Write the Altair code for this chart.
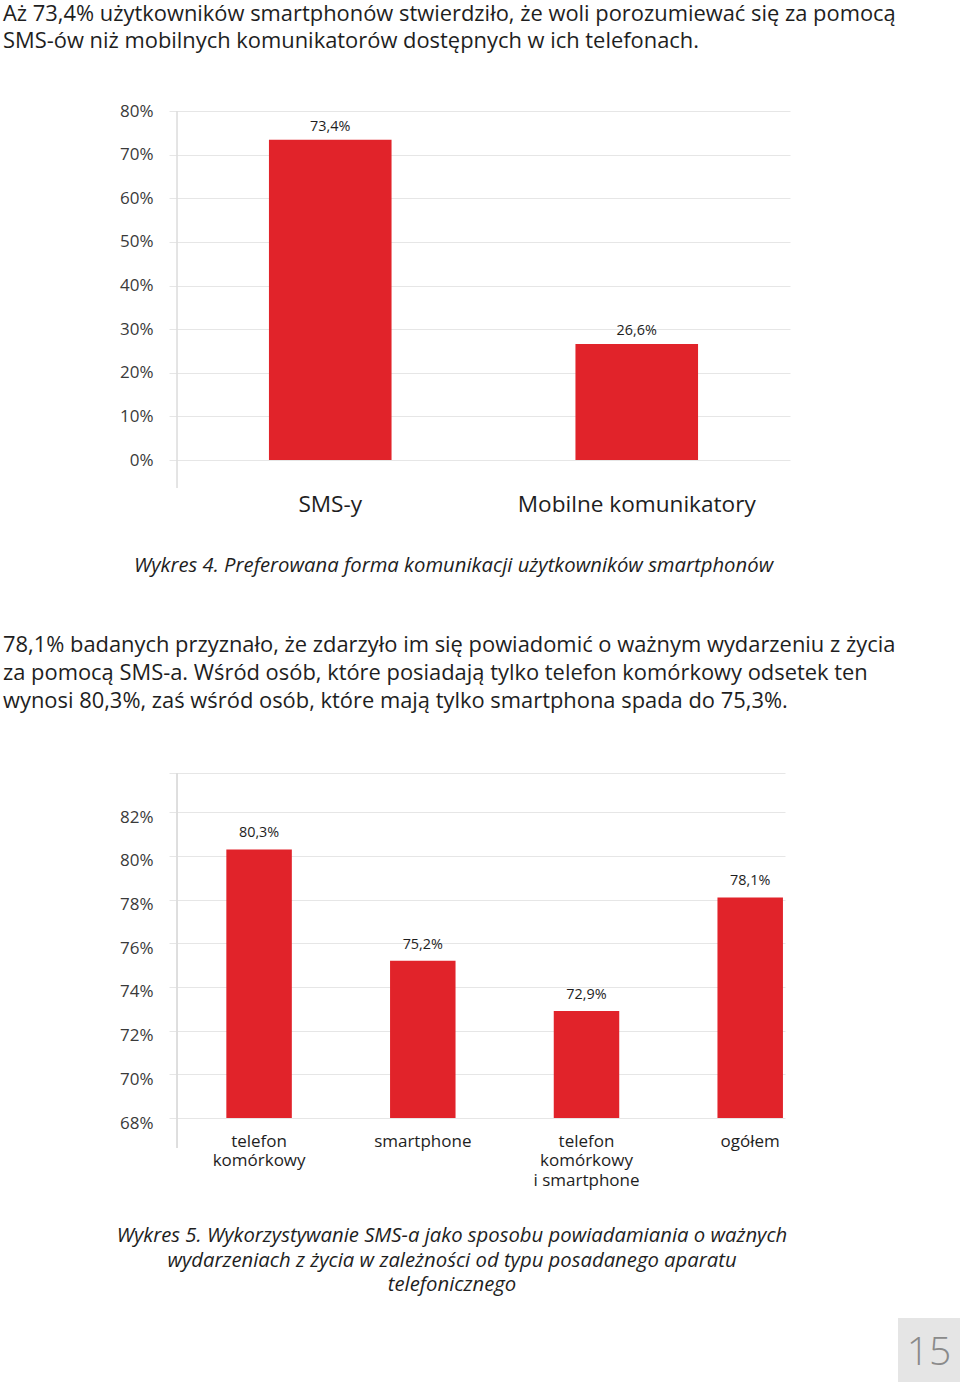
import altair as alt
import pandas as pd

FONT = "Open Sans"
RED = "#e1232a"
GRID = "#e6e6e6"
TEXT = "#1e1e1e"
AXIS_TEXT = "#3a3a3a"

# ---------------- data ----------------
intro_lines = [
    "Aż 73,4% użytkowników smartphonów stwierdziło, że woli porozumiewać się za pomocą",
    "SMS-ów niż mobilnych komunikatorów dostępnych w ich telefonach.",
]
cats1 = ["SMS-y", "Mobilne komunikatory"]
vals1 = [73.4, 26.6]
ticks1 = [0, 10, 20, 30, 40, 50, 60, 70, 80]
caption1 = ["Wykres 4. Preferowana forma komunikacji użytkowników smartphonów"]

para2 = [
    "78,1% badanych przyznało, że zdarzyło im się powiadomić o ważnym wydarzeniu z życia",
    "za pomocą SMS-a. Wśród osób, które posiadają tylko telefon komórkowy odsetek ten",
    "wynosi 80,3%, zaś wśród osób, które mają tylko smartphona spada do 75,3%.",
]
cats2 = ["telefon komórkowy", "smartphone", "telefon komórkowy i smartphone", "ogółem"]
label_lines2 = [["telefon", "komórkowy"], ["smartphone"], ["telefon", "komórkowy", "i smartphone"], ["ogółem"]]
vals2 = [80.3, 75.2, 72.9, 78.1]
ticks2 = [68, 70, 72, 74, 76, 78, 80, 82]
top2 = 83.8
caption2 = [
    "Wykres 5. Wykorzystywanie SMS-a jako sposobu powiadamiania o ważnych",
    "wydarzeniach z życia w zależności od typu posadanego aparatu",
    "telefonicznego",
]
page_number = "15"

pct_label = "replace(format(datum.val, '.1f'), '.', ',') + '%'"

# ---------------- chart 1 ----------------
df1 = pd.DataFrame({"cat": cats1, "val": vals1})
x1 = alt.X("cat:N", sort=cats1, title=None,
           scale=alt.Scale(paddingInner=0.6, paddingOuter=0.3),
           axis=alt.Axis(labelAngle=0, domain=False, ticks=False, labelFontSize=22.6,
                         labelPadding=33, labelColor=TEXT, labelFont=FONT, labelLimit=500))
y1 = alt.Y("val:Q", title=None, scale=alt.Scale(domain=[0, 80], nice=False),
           axis=alt.Axis(values=ticks1, labelExpr="datum.value + '%'", grid=True,
                         gridColor=GRID, domain=False, tickSize=8, tickColor=GRID,
                         labelPadding=16, labelFontSize=17, labelColor=AXIS_TEXT,
                         labelFont=FONT))
base1 = alt.Chart(df1).transform_calculate(lab=pct_label)
bars1 = base1.mark_bar(color=RED).encode(x=x1, y=y1)
text1 = base1.mark_text(dy=-9, baseline="alphabetic", fontSize=14.4, font=FONT,
                        color=TEXT).encode(x=x1, y=y1, text="lab:N")
vline1 = alt.Chart(df1).mark_rule(color="#dcdcdc").encode(
    x=alt.value(0), y=alt.value(0), y2=alt.value(377))

ch1 = alt.layer(bars1, text1, vline1).properties(
    width=613, height=349,
    title=alt.TitleParams(caption1, orient="bottom", anchor="middle", frame="group",
                          dx=-30, offset=40, fontSize=20.3, fontStyle="italic",
                          fontWeight="normal", font=FONT, color=TEXT),
)

# ---------------- chart 2 ----------------
df2 = pd.DataFrame({"cat": cats2, "val": vals2})
expr_parts = []
for c, lines in zip(cats2, label_lines2):
    arr = "[" + ",".join("'" + l + "'" for l in lines) + "]"
    expr_parts.append(f"datum.label == '{c}' ? {arr} : ")
label_expr2 = "".join(expr_parts) + "datum.label"

x2 = alt.X("cat:N", sort=cats2, title=None,
           scale=alt.Scale(paddingInner=0.6, paddingOuter=0.157, align=0.96),
           axis=alt.Axis(labelAngle=0, domain=False, ticks=False, labelFontSize=17,
                         labelLineHeight=19.5, labelPadding=15, labelColor=TEXT,
                         labelFont=FONT, labelExpr=label_expr2, labelLimit=500))
y2 = alt.Y("val:Q", title=None, scale=alt.Scale(domain=[68, top2], nice=False, zero=False),
           axis=alt.Axis(values=ticks2 + [top2],
                         labelExpr="datum.value > 83 ? '' : datum.value + '%'",
                         grid=True, gridColor=GRID, domain=False, tickSize=8,
                         tickColor=GRID, labelPadding=16, labelFontSize=17,
                         labelOffset=5, labelColor=AXIS_TEXT, labelFont=FONT))
base2 = alt.Chart(df2).transform_calculate(lab=pct_label)
bars2 = base2.mark_bar(color=RED, clip=True).encode(x=x2, y=y2)
text2 = base2.mark_text(dy=-12, baseline="alphabetic", fontSize=14.4, font=FONT,
                        color=TEXT).encode(x=x2, y=y2, text="lab:N")
vline2 = alt.Chart(df2).mark_rule(color="#dcdcdc").encode(
    x=alt.value(0), y=alt.value(0), y2=alt.value(375))

ch2 = alt.layer(bars2, text2, vline2).properties(
    width=608, height=345,
    title=alt.TitleParams(caption2, orient="bottom", anchor="middle", frame="group",
                          dx=-29, offset=38, fontSize=20.3, lineHeight=24.5,
                          fontStyle="italic", fontWeight="normal", font=FONT, color=TEXT),
)

# ---------------- page number box ----------------
dfp = pd.DataFrame({"page": [page_number]})
box = alt.Chart(dfp).mark_rect(color="#e5e5e5").encode(
    x=alt.value(0), x2=alt.value(62), y=alt.value(545), y2=alt.value(609))
num = alt.Chart(dfp).mark_text(fontSize=39, font=FONT, fontWeight=300, color="#8a8a8a",
                               align="center", baseline="middle").encode(
    x=alt.value(31), y=alt.value(580), text="page:N")
pagebox = alt.layer(box, num).properties(width=62, height=609)

inner = alt.hconcat(ch2, pagebox, spacing=110).properties(
    title=alt.TitleParams(para2, anchor="start", frame="group", dx=-174, offset=60,
                          fontSize=21.9, lineHeight=28, fontWeight="normal", font=FONT,
                          color=TEXT),
)

chart = alt.vconcat(ch1, inner, spacing=57).properties(
    title=alt.TitleParams(intro_lines, anchor="start", frame="group", dx=-174, offset=49,
                          fontSize=21.9, lineHeight=27.5, fontWeight="normal", font=FONT,
                          color=TEXT),
    padding={"left": 3, "top": 2, "right": 0, "bottom": 0},
    background="white",
).configure_view(strokeWidth=0, stroke="transparent")

chart.save("out.html", embed_options={"renderer": "svg", "actions": False})
